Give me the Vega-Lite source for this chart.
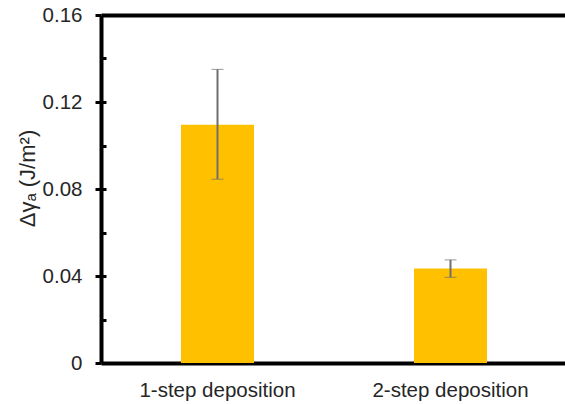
{
  "$schema": "https://vega.github.io/schema/vega-lite/v6.json",
  "width": 466,
  "height": 348,
  "autosize": "none",
  "padding": {"left": 101, "top": 15, "right": 0, "bottom": 41},
  "config": {
    "view": {"stroke": null},
    "font": "Liberation Sans"
  },
  "data": {
    "values": [
      {"group": "1-step deposition", "value": 0.1095, "lo": 0.0845, "hi": 0.135},
      {"group": "2-step deposition", "value": 0.0434, "lo": 0.0394, "hi": 0.0474}
    ]
  },
  "layer": [
    {
      "mark": {"type": "bar", "color": "#FFC000", "size": 73},
      "encoding": {
        "x": {
          "field": "group",
          "type": "nominal",
          "sort": null,
          "axis": {
            "title": null,
            "labelAngle": 0,
            "labelFontSize": 20.5,
            "labelColor": "#262626",
            "labelPadding": 17,
            "ticks": false,
            "domain": true,
            "domainColor": "black",
            "domainWidth": 4
          }
        },
        "y": {
          "field": "value",
          "type": "quantitative",
          "scale": {"domain": [0, 0.16], "nice": false},
          "axis": {
            "title": "Δγₐ (J/m²)",
            "titleFontSize": 22,
            "titleFontWeight": "normal",
            "titleColor": "#262626",
            "titlePadding": 3,
            "titleY": 163,
            "values": [0, 0.04, 0.08, 0.12, 0.16],
            "labelExpr": "datum.value == 0 ? '0' : format(datum.value, '.2f')",
            "labelFontSize": 20.5,
            "labelColor": "#262626",
            "labelPadding": 13,
            "tickSize": 6,
            "tickWidth": 3,
            "tickColor": "black",
            "domain": true,
            "domainColor": "black",
            "domainWidth": 4,
            "grid": false
          }
        }
      }
    },
    {
      "mark": {
        "type": "errorbar",
        "ticks": {"size": 12, "color": "#6E6E6E", "strokeWidth": 2},
        "rule": {"color": "#6E6E6E", "strokeWidth": 2}
      },
      "encoding": {
        "x": {
          "field": "group",
          "type": "nominal",
          "sort": null,
          "axis": {
            "orient": "top",
            "title": null,
            "labels": false,
            "ticks": false,
            "domain": true,
            "domainColor": "black",
            "domainWidth": 4
          }
        },
        "y": {
          "field": "lo",
          "type": "quantitative",
          "scale": {"domain": [0, 0.16], "nice": false},
          "axis": {
            "orient": "left",
            "title": null,
            "values": [0.02, 0.04, 0.06, 0.08, 0.1, 0.12, 0.14],
            "labels": false,
            "tickSize": -5,
            "tickWidth": 3,
            "tickColor": "black",
            "domain": false,
            "grid": false
          }
        },
        "y2": {"field": "hi"}
      }
    }
  ],
  "resolve": {"axis": {"y": "independent", "x": "independent"}}
}
